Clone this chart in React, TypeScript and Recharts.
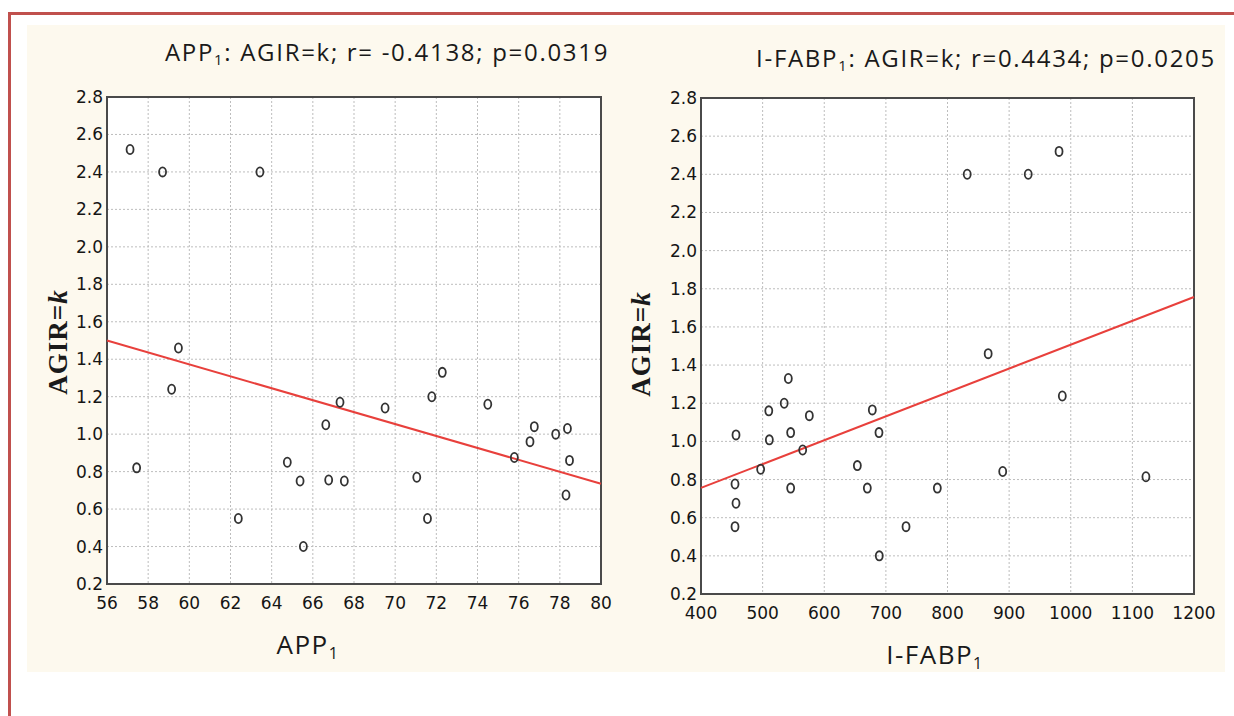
import React from "react";
import {
  CartesianGrid,
  ReferenceArea,
  ReferenceLine,
  Scatter,
  ScatterChart,
  XAxis,
  YAxis,
} from "recharts";

// APP1 vs AGIR=k
const appX = [
  57.12, 58.7, 63.43, 59.47, 59.14, 57.44, 62.38, 65.54, 64.76, 65.38, 66.63,
  66.77, 67.32, 67.53, 69.51, 71.05, 71.57, 71.78, 72.29, 74.5, 75.79, 76.55,
  76.76, 77.8, 78.37, 78.47, 78.3,
];
const appY = [
  2.52, 2.4, 2.4, 1.46, 1.24, 0.82, 0.55, 0.4, 0.85, 0.75, 1.05, 0.755, 1.17,
  0.75, 1.14, 0.77, 0.55, 1.2, 1.33, 1.16, 0.875, 0.96, 1.04, 1.0, 1.03, 0.86,
  0.675,
];

// I-FABP1 vs AGIR=k
const fabpX = [
  832, 931, 981, 866, 541.7, 535, 510, 575.8, 456.8, 510.9, 545.5, 565, 496.8,
  455.2, 456.8, 455.2, 545.5, 678, 688.8, 653.7, 669.9, 689.3, 732.7, 986.3,
  889.6, 783.5, 1122,
];
const fabpY = [
  2.4, 2.4, 2.52, 1.46, 1.33, 1.2, 1.16, 1.135, 1.034, 1.008, 1.046, 0.955,
  0.854, 0.777, 0.676, 0.553, 0.755, 1.165, 1.046, 0.873, 0.755, 0.4, 0.553,
  1.238, 0.842, 0.755, 0.815,
];

const appTicks = [56, 58, 60, 62, 64, 66, 68, 70, 72, 74, 76, 78, 80];
const fabpTicks = [400, 500, 600, 700, 800, 900, 1000, 1100, 1200];
const agirTicks = [
  0.2, 0.4, 0.6, 0.8, 1.0, 1.2, 1.4, 1.6, 1.8, 2.0, 2.2, 2.4, 2.6, 2.8,
];

const appTrend = [
  { x: 56, y: 1.5 },
  { x: 80, y: 0.735 },
];
const fabpTrend = [
  { x: 400, y: 0.756 },
  { x: 1200, y: 1.757 },
];

const zip = (xs: number[], ys: number[]) => xs.map((x, i) => ({ x, y: ys[i] }));

const Ring = (p: any) => (
  <ellipse
    cx={p.cx}
    cy={p.cy}
    rx={3.5}
    ry={4.6}
    fill="none"
    stroke="#333"
    strokeWidth={1.8}
  />
);

const tickStyle = { fontSize: 17, fill: "#151515", fontFamily: "DejaVu Sans" };
const sansFont = "'Open Sans', sans-serif";

const Sub = ({ children }: { children: React.ReactNode }) => (
  <sub style={{ fontSize: "0.62em", verticalAlign: "-0.3em" }}>{children}</sub>
);

interface PanelProps {
  left: number;
  width: number;
  margin: { top: number; right: number; bottom: number; left: number };
  points: { x: number; y: number }[];
  xTicks: number[];
  trend: { x: number; y: number }[];
}

function Panel({ left, width, margin, points, xTicks, trend }: PanelProps) {
  const x0 = xTicks[0];
  const x1 = xTicks[xTicks.length - 1];
  return (
    <div style={{ position: "absolute", left, top: 0 }}>
      <ScatterChart width={width} height={716} margin={margin}>
        <CartesianGrid
          fill="#ffffff"
          stroke="#bdbdbd"
          strokeDasharray="2 2"
        />
        <XAxis
          type="number"
          dataKey="x"
          domain={[x0, x1]}
          ticks={xTicks}
          interval={0}
          axisLine={false}
          tickLine={false}
          tickSize={0}
          tickMargin={13}
          height={40}
          tick={tickStyle}
        />
        <YAxis
          type="number"
          dataKey="y"
          domain={[0.2, 2.8]}
          ticks={agirTicks}
          interval={0}
          axisLine={false}
          tickLine={false}
          tickSize={0}
          tickMargin={4}
          width={60}
          tick={tickStyle}
          tickFormatter={(v: number) => v.toFixed(1)}
        />
        <ReferenceLine
          segment={trend}
          stroke="#e8403c"
          strokeWidth={2}
          ifOverflow="visible"
        />
        <Scatter data={points} shape={Ring} isAnimationActive={false} />
        <ReferenceArea
          x1={x0}
          x2={x1}
          y1={0.2}
          y2={2.8}
          fill="none"
          stroke="#4a4a4a"
          strokeWidth={2}
        />
      </ScatterChart>
    </div>
  );
}

function YLabel({ cx, cy }: { cx: number; cy: number }) {
  return (
    <div
      style={{
        position: "absolute",
        left: cx,
        top: cy,
        transform: "translate(-50%, -50%) rotate(-90deg)",
        whiteSpace: "nowrap",
        fontFamily: "'Liberation Serif', serif",
        fontWeight: "bold",
        fontSize: 27,
        letterSpacing: 1,
        color: "#1a1a1a",
      }}
    >
      AGIR=<i>k</i>
    </div>
  );
}

function Text({
  cx,
  cy,
  size,
  spacing,
  children,
}: {
  cx: number;
  cy: number;
  size: number;
  spacing: number;
  children: React.ReactNode;
}) {
  return (
    <div
      style={{
        position: "absolute",
        left: cx,
        top: cy,
        transform: "translate(-50%, -50%)",
        whiteSpace: "nowrap",
        fontFamily: sansFont,
        fontSize: size,
        letterSpacing: spacing,
        color: "#1a1a1a",
      }}
    >
      {children}
    </div>
  );
}

export default function App() {
  return (
    <div
      style={{
        position: "fixed",
        left: 0,
        top: 0,
        width: 1234,
        height: 716,
        background: "#ffffff",
        overflow: "hidden",
      }}
    >
      <div
        style={{
          position: "absolute",
          left: 8,
          top: 12,
          width: 1260,
          height: 740,
          border: "3px solid #c0504d",
        }}
      />
      <div
        style={{
          position: "absolute",
          left: 27,
          top: 25,
          width: 1198,
          height: 647,
          background: "#fdf9ee",
        }}
      />
      <Panel
        left={0}
        width={620}
        margin={{ top: 97, right: 19, bottom: 92, left: 47 }}
        points={zip(appX, appY)}
        xTicks={appTicks}
        trend={appTrend}
      />
      <Panel
        left={620}
        width={614}
        margin={{ top: 98, right: 40, bottom: 82, left: 21 }}
        points={zip(fabpX, fabpY)}
        xTicks={fabpTicks}
        trend={fabpTrend}
      />
      <Text cx={387} cy={52} size={24} spacing={1.7}>
        APP<Sub>1</Sub>: AGIR=k; r= -0.4138; p=0.0319
      </Text>
      <Text cx={986} cy={58} size={24} spacing={1.7}>
        I-FABP<Sub>1</Sub>: AGIR=k; r=0.4434; p=0.0205
      </Text>
      <Text cx={308} cy={645} size={26} spacing={1.5}>
        APP<Sub>1</Sub>
      </Text>
      <Text cx={935} cy={655} size={26} spacing={1.5}>
        I-FABP<Sub>1</Sub>
      </Text>
      <YLabel cx={58} cy={342} />
      <YLabel cx={641} cy={344} />
    </div>
  );
}
